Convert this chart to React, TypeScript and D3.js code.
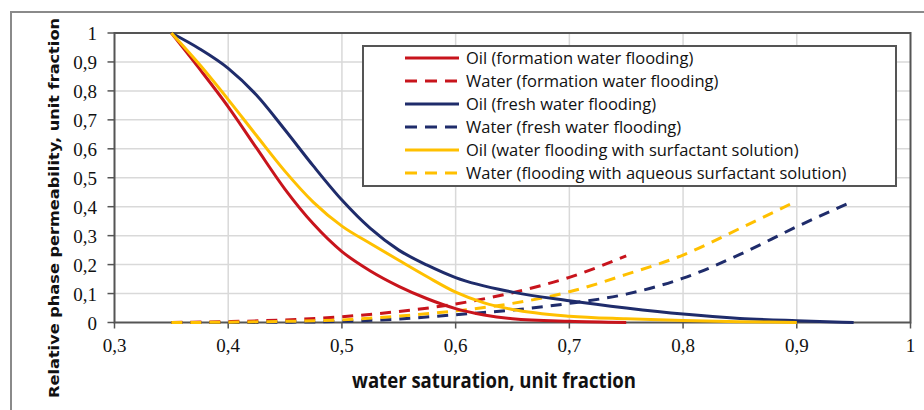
import React from "react";
import * as d3 from "d3";

// ---- data ----
const xTicks = [0.3, 0.4, 0.5, 0.6, 0.7, 0.8, 0.9, 1];
const yTicks = [0, 0.1, 0.2, 0.3, 0.4, 0.5, 0.6, 0.7, 0.8, 0.9, 1];
const fmt = (v: number) => (v === 0 || v === 1 ? String(v) : String(v).replace(".", ","));

const oilFormationSw = [0.35, 0.375, 0.4, 0.425, 0.45, 0.475, 0.5, 0.525, 0.55, 0.575, 0.6, 0.625, 0.65, 0.7, 0.75];
const oilFormationKr = [1, 0.875, 0.745, 0.602, 0.46, 0.34, 0.245, 0.178, 0.125, 0.082, 0.048, 0.026, 0.013, 0.004, 0];

const waterFormationSw = [0.35, 0.4, 0.45, 0.5, 0.55, 0.6, 0.65, 0.7, 0.75];
const waterFormationKr = [0, 0.003, 0.009, 0.02, 0.038, 0.064, 0.103, 0.156, 0.23];

const oilFreshSw = [0.35, 0.375, 0.4, 0.425, 0.45, 0.475, 0.5, 0.525, 0.55, 0.575, 0.6, 0.65, 0.7, 0.75, 0.8, 0.85, 0.9, 0.95];
const oilFreshKr = [1, 0.945, 0.878, 0.785, 0.665, 0.54, 0.423, 0.325, 0.25, 0.198, 0.155, 0.105, 0.075, 0.05, 0.029, 0.014, 0.006, 0];

const waterFreshSw = [0.35, 0.4, 0.45, 0.5, 0.55, 0.6, 0.65, 0.7, 0.75, 0.8, 0.85, 0.9, 0.95];
const waterFreshKr = [0, 0, 0.001, 0.004, 0.012, 0.027, 0.043, 0.066, 0.098, 0.153, 0.235, 0.331, 0.42];

const oilSurfSw = [0.35, 0.375, 0.4, 0.425, 0.45, 0.475, 0.5, 0.525, 0.55, 0.575, 0.6, 0.625, 0.65, 0.7, 0.75, 0.8, 0.85, 0.9];
const oilSurfKr = [1, 0.89, 0.77, 0.645, 0.522, 0.415, 0.333, 0.273, 0.215, 0.158, 0.105, 0.068, 0.045, 0.022, 0.013, 0.007, 0.003, 0];

const waterSurfSw = [0.35, 0.4, 0.45, 0.5, 0.55, 0.6, 0.65, 0.7, 0.75, 0.8, 0.85, 0.9];
const waterSurfKr = [0, 0.001, 0.004, 0.009, 0.022, 0.04, 0.066, 0.106, 0.166, 0.233, 0.325, 0.42];

const seriesNames = [
  "Oil (formation water flooding)",
  "Water (formation water flooding)",
  "Oil (fresh water flooding)",
  "Water (fresh water flooding)",
  "Oil (water flooding with surfactant solution)",
  "Water (flooding with aqueous surfactant solution)",
];

const RED = "#C8141C";
const BLUE = "#1F2C6B";
const YELLOW = "#FFC000";

const series = [
  { name: seriesNames[0], sw: oilFormationSw, kr: oilFormationKr, color: RED, dashed: false },
  { name: seriesNames[1], sw: waterFormationSw, kr: waterFormationKr, color: RED, dashed: true },
  { name: seriesNames[2], sw: oilFreshSw, kr: oilFreshKr, color: BLUE, dashed: false },
  { name: seriesNames[3], sw: waterFreshSw, kr: waterFreshKr, color: BLUE, dashed: true },
  { name: seriesNames[4], sw: oilSurfSw, kr: oilSurfKr, color: YELLOW, dashed: false },
  { name: seriesNames[5], sw: waterSurfSw, kr: waterSurfKr, color: YELLOW, dashed: true },
];

export default function App() {
  const x = d3.scaleLinear().domain([0.3, 1]).range([114.5, 910.5]);
  const y = d3.scaleLinear().domain([0, 1]).range([322.5, 33]);
  const line = d3
    .line<[number, number]>()
    .x((d) => x(d[0]))
    .y((d) => y(d[1]))
    .curve(d3.curveMonotoneX);

  const drawOrder = [1, 3, 5, 0, 2, 4];
  const legendY0 = 58;
  const legendStep = 23;

  return (
    <svg
      width={924}
      height={410}
      style={{ position: "fixed", left: 0, top: 0, background: "#fff" }}
    >
      <rect x={0} y={0} width={924} height={410} fill="#fff" />
      {/* outer frame */}
      <rect x={11} y={12} width={930} height={420} fill="none" stroke="#8a8a8a" strokeWidth={2} />

      {/* grid */}
      {xTicks.slice(1, -1).map((t) => (
        <line key={"gx" + t} x1={x(t)} x2={x(t)} y1={y(1)} y2={y(0)} stroke="#d9d9d9" strokeWidth={1.5} />
      ))}
      {yTicks.slice(1, -1).map((t) => (
        <line key={"gy" + t} x1={x(0.3)} x2={x(1)} y1={y(t)} y2={y(t)} stroke="#d9d9d9" strokeWidth={1.5} />
      ))}

      {/* plot frame */}
      <rect
        x={x(0.3)}
        y={y(1)}
        width={x(1) - x(0.3)}
        height={y(0) - y(1)}
        fill="none"
        stroke="#555"
        strokeWidth={2}
      />

      {/* ticks */}
      {yTicks.map((t) => (
        <g key={"ty" + t}>
          <line x1={x(0.3) - 7} x2={x(0.3)} y1={y(t)} y2={y(t)} stroke="#555" strokeWidth={1.5} />
          <text
            x={97}
            y={y(t) + 7}
            textAnchor="end"
            fontFamily="'Liberation Serif', 'Times New Roman', serif"
            fontSize={19}
            fill="#111"
          >
            {fmt(t)}
          </text>
        </g>
      ))}
      {xTicks.map((t) => (
        <g key={"tx" + t}>
          <line x1={x(t)} x2={x(t)} y1={y(0)} y2={y(0) + 6} stroke="#555" strokeWidth={1.5} />
          <text
            x={x(t)}
            y={352}
            textAnchor="middle"
            fontFamily="'Liberation Serif', 'Times New Roman', serif"
            fontSize={19}
            fill="#111"
          >
            {fmt(t)}
          </text>
        </g>
      ))}

      {/* series */}
      {drawOrder.map((i) => {
        const s = series[i];
        const pts = s.sw.map((v, k) => [v, s.kr[k]] as [number, number]);
        return (
          <path
            key={s.name}
            d={line(pts) || ""}
            fill="none"
            stroke={s.color}
            strokeWidth={3}
            strokeDasharray={s.dashed ? "11,8" : undefined}
          />
        );
      })}

      {/* axis titles */}
      <text
        x={494}
        y={388}
        textAnchor="middle"
        fontFamily="'Open Sans', 'Noto Sans', sans-serif"
        fontWeight="bold"
        fontSize={20.5}
        textLength={284}
        lengthAdjust="spacingAndGlyphs"
        fill="#111"
      >
        water saturation,  unit fraction
      </text>
      <text
        transform="translate(59,208) rotate(-90)"
        textAnchor="middle"
        fontFamily="'DejaVu Sans', sans-serif"
        fontWeight="bold"
        fontSize={14}
        textLength={380}
        lengthAdjust="spacingAndGlyphs"
        fill="#111"
      >
        Relative phase permeability, unit fraction
      </text>

      {/* legend */}
      <rect x={363} y={46} width={533} height={140} fill="#fff" stroke="#555" strokeWidth={2} />
      {series.map((s, i) => {
        const cy = legendY0 + i * legendStep;
        return (
          <g key={"lg" + i}>
            <line
              x1={405}
              x2={459}
              y1={cy}
              y2={cy}
              stroke={s.color}
              strokeWidth={3}
              strokeDasharray={s.dashed ? "12,8" : undefined}
            />
            <text
              x={466}
              y={cy + 6}
              fontFamily="'Open Sans', 'Noto Sans', sans-serif"
              fontSize={16.5}
              fill="#111"
            >
              {s.name}
            </text>
          </g>
        );
      })}
    </svg>
  );
}
